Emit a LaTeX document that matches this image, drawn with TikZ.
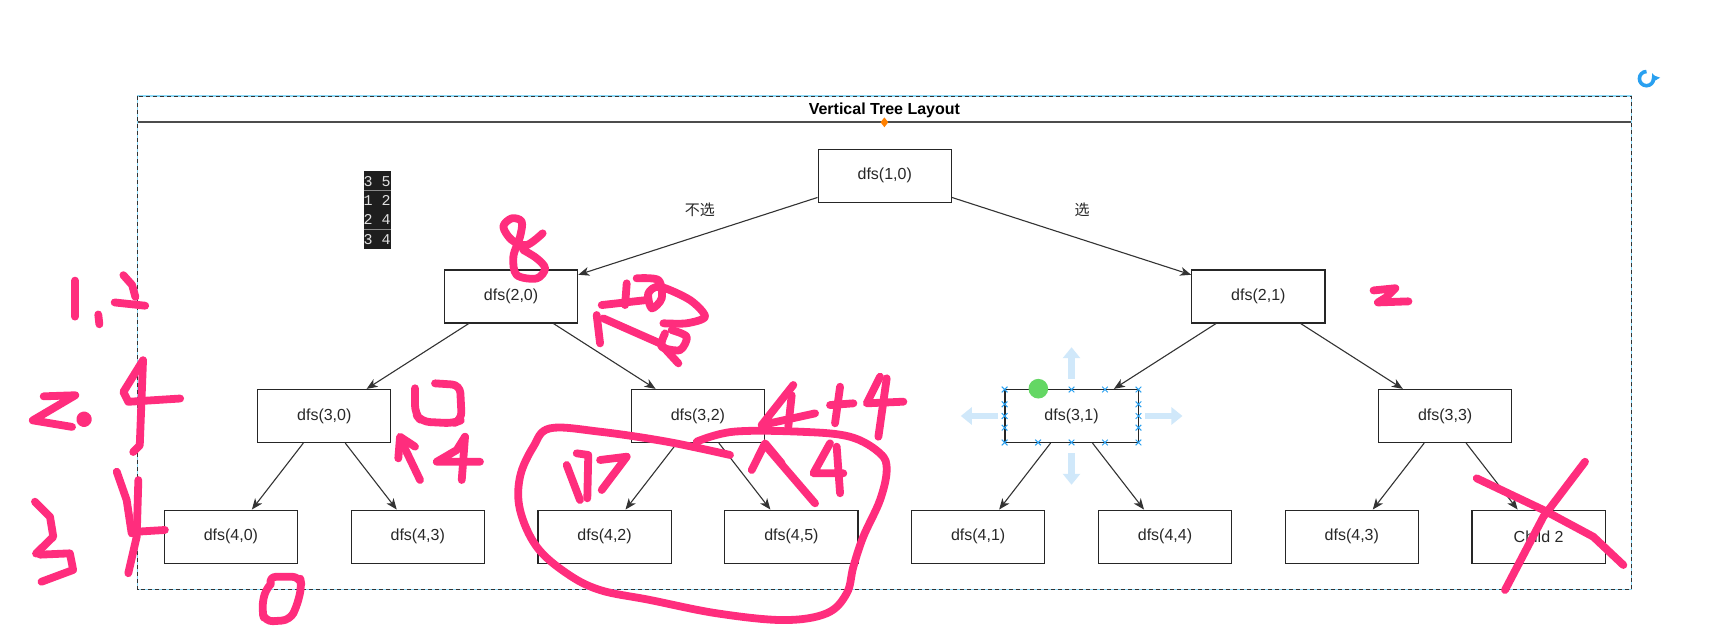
\documentclass[tikz,border=0pt]{standalone}
\usepackage{fontspec}
\setmainfont{Liberation Sans}
\newfontfamily\cjk{Noto Sans CJK SC}
\newfontfamily\monof{Liberation Mono}
\usetikzlibrary{arrows.meta}
\definecolor{ink}{RGB}{255,45,125}
\definecolor{selblue}{RGB}{41,160,240}
\definecolor{pale}{RGB}{208,232,250}
\definecolor{txt}{RGB}{40,40,40}
\definecolor{dotgreen}{RGB}{100,215,100}
\definecolor{consolebg}{RGB}{30,30,30}
\begin{document}
\begin{tikzpicture}[x=0.5459pt,y=-0.5459pt,
  box/.style={draw=black!85, line width=0.6pt, fill=white, minimum width=66.6pt,
    minimum height=26.5pt, inner sep=0pt, font=\fontsize{8}{9.6}\selectfont, text=txt},
  edge/.style={draw=black!80, line width=0.55pt,
    -{Stealth[length=5.5pt,width=4.4pt,inset=1.6pt]}},
  lbl/.style={font=\cjk\fontsize{7.5}{9}\selectfont, text=txt, inner sep=0pt},
  ink/.style={draw=ink, line width=3.9pt, line cap=round, line join=round},
  handle/.style={draw=selblue, line width=0.5pt},
  bigarrow/.style={draw=pale, line width=3.3pt, -{Triangle[length=5.5pt,width=8.5pt]}},
  contxt/.style={font=\monof\fontsize{7.5}{8}\selectfont, text=black!12, inner sep=0pt}
]
\useasboundingbox (0,0) rectangle (1568,583);
\fill[white] (0,0) rectangle (1568,583);

% container
\draw[cyan!45, line width=0.6pt] (126,88) rectangle (1494,540);
\draw[black!80, line width=0.4pt, dash pattern=on 2pt off 1.5pt] (126,88) rectangle (1494,540);
\draw[black!70, line width=1pt] (126,112) -- (1494,112);
\node[font=\bfseries\fontsize{8}{9.6}\selectfont, inner sep=0pt] (title) at (810,101) {Vertical Tree Layout};
\fill[orange] (810,107.5) -- (813.5,112) -- (810,116.5) -- (806.5,112) -- cycle;

% refresh icon
\draw[selblue, line width=1.8pt, -{Triangle[length=3pt,width=5pt]}]
  (1508,65.5) arc[start angle=270, end angle=-30, radius=6.5];

% console snippet
\node[fill=consolebg, minimum width=13.65pt, minimum height=38.8pt, inner sep=0pt] (con) at (345.5,192.5) {};
\draw[black!45, line width=0.5pt] (333,174.75) -- (358,174.75) (333,210.25) -- (358,210.25);
\node[contxt] (r1) at (345.5,165.9) {3 5};
\node[contxt] (r2) at (345.5,183.6) {1 2};
\node[contxt] (r3) at (345.5,201.4) {2 4};
\node[contxt] (r4) at (345.5,219.1) {3 4};

% tree nodes
\node[box] (n10) at (810.3,161) {dfs(1,0)};
\node[box] (n20) at (468.1,271.5) {dfs(2,0)};
\node[box] (n21) at (1152.5,271.5) {dfs(2,1)};
\node[box] (n30) at (297,381) {dfs(3,0)};
\node[box] (n32) at (639.2,381) {dfs(3,2)};
\node[box] (n31) at (981.4,381) {dfs(3,1)};
\node[box] (n33) at (1323.6,381) {dfs(3,3)};
\node[box] (n40) at (211.5,491.5) {dfs(4,0)};
\node[box] (n43a) at (382.6,491.5) {dfs(4,3)};
\node[box] (n42) at (553.7,491.5) {dfs(4,2)};
\node[box] (n45) at (724.8,491.5) {dfs(4,5)};
\node[box] (n41) at (895.9,491.5) {dfs(4,1)};
\node[box] (n44) at (1067,491.5) {dfs(4,4)};
\node[box] (n43b) at (1238.1,491.5) {dfs(4,3)};
\node[box] (c2) at (1409.2,491.5) {Child 2};

\draw[edge] (n10) -- (n20);
\draw[edge] (n10) -- (n21);
\draw[edge] (n20) -- (n30);
\draw[edge] (n20) -- (n32);
\draw[edge] (n21) -- (n31);
\draw[edge] (n21) -- (n33);
\draw[edge] (n30) -- (n40);
\draw[edge] (n30) -- (n43a);
\draw[edge] (n32) -- (n42);
\draw[edge] (n32) -- (n45);
\draw[edge] (n31) -- (n41);
\draw[edge] (n31) -- (n44);
\draw[edge] (n33) -- (n43b);
\draw[edge] (n33) -- (c2);

\node[lbl] (l0) at (641,192) {不选};
\node[lbl] (l1) at (991,192) {选};

% selection decorations on dfs(3,1)
\draw[bigarrow] (981.4,347) -- (981.4,318);
\draw[bigarrow] (981.4,415) -- (981.4,444);
\draw[bigarrow] (914,381) -- (880,381);
\draw[bigarrow] (1049,381) -- (1083,381);
\foreach \x in {920.1,950.75,981.4,1012.05,1042.7}
  \foreach \y in {356.75,405.25}
    \draw[handle] (\x-2.6,\y-2.6) -- (\x+2.6,\y+2.6) (\x-2.6,\y+2.6) -- (\x+2.6,\y-2.6);
\foreach \x in {920.1,1042.7}
  \foreach \y in {370.3,381,391.7}
    \draw[handle] (\x-2.6,\y-2.6) -- (\x+2.6,\y+2.6) (\x-2.6,\y+2.6) -- (\x+2.6,\y-2.6);
\fill[dotgreen] (951,356) circle (9);

% handwritten annotations
% "1,2"
\draw[ink] (68.7,257) -- (68.7,290);
\draw[ink] (90,288) -- (91,297);
\draw[ink] (113,252) -- (121,261) -- (124,272);
\draw[ink] (105,277) -- (133,280);
% "2."
\draw[ink] (40,363) -- (69,362) -- (30,385) -- (66,391);
\fill[ink] (77,384) circle (3.6);
% "4"
\draw[ink] (131,330) -- (113,359) -- (117.5,368) -- (165,365);
\draw[ink] (131,330) -- (128,408) -- (122,414);
% "3"
\draw[ink] (32,459.5) -- (45.8,473.3) -- (48.8,491.6) -- (33,507);
\draw[ink] (36.6,508) -- (64,506.8) -- (67,522) -- (38,532.8);
% "K"
\draw[ink] (106.9,432) -- (116,458) -- (120.6,488.5);
\draw[ink] (126.7,439.7) -- (125.2,491.6) -- (117.5,525);
\draw[ink] (125,487) -- (151,485.4);
% "0"
\draw[ink, rounded corners=4pt] (248,535) -- (245.7,528.2) -- (274.8,528.2) -- (276.3,537.3) -- (271.7,555.7)
  -- (265.6,567.9) -- (242.7,569.4) -- (239.7,558.7) -- (242.7,540.4) -- (248,535);
% "8"
\draw[ink] plot[smooth, tension=0.55] coordinates {(497,213.7) (482.4,224.4) (468.7,219.8) (461,207.6)
  (468.7,200) (477.8,203) (476.3,216.8) (470.2,235.1) (473.3,251.9) (491.6,255) (499.2,245.8)
  (491.6,236.6) (479.3,229)};
% "28"
\draw[ink] (551.1,279.4) -- (592.3,274.8);
\draw[ink] (574,259.5) -- (572.5,279.4);
\draw[ink] (546.5,288.5) -- (549.6,314.5);
\draw[ink] (552.6,291.6) -- (604.5,314.5) -- (621.3,332.8);
\draw[ink] plot[smooth, tension=0.5] coordinates {(583.1,254.9) (603,256.5) (606,273.3) (596.9,282.4)
  (593.8,268.7) (604.5,262.6) (632,274.8) (645.7,290) (628.9,296.1) (607.6,296.1)};
\draw[ink] plot[smooth, tension=0.5] coordinates {(609.1,305.3) (606,317.5) (622.8,320.6) (628.9,308.4) (615.2,302.3)};
% "0" and "14" near dfs(3,0)
\draw[ink, rounded corners=4pt] (398.4,351.1) -- (421.3,352.6) -- (422.9,384.7) -- (415.2,387.7)
  -- (386.2,386.2) -- (380.1,378.6) -- (380.1,355.6);
\draw[ink] (366.4,401.5) -- (384.7,439.6);
\draw[ink] (364.8,419.8) -- (366.4,400) -- (380.1,409.1);
\draw[ink] (425.9,400) -- (418.3,412.2) -- (400,422.9) -- (439.6,422.9);
\draw[ink] (425.9,400) -- (422.9,439.6);
% "2" near dfs(2,1)
\draw[ink] (1258,266) -- (1278,264) -- (1270,272) -- (1262,277) -- (1290,276);
% loop
\draw[ink] plot[smooth, tension=0.6] coordinates {(668.6,416.7) (610.6,404.5) (549.5,395.4) (503.8,392.3)
  (488.5,409.1) (476.3,436.6) (476.3,467.1) (491.5,500.7) (519,525.1) (549.5,540.4) (595.3,549.5)
  (656.4,561.7) (717.5,567.9) (757.2,561.7) (775.5,543.4) (781.6,519) (790.7,491.5) (806,458)
  (812.1,430.5) (806,415.2) (778.5,400) (732.7,395.4) (671.7,395.4) (638.1,404.5)};
% "17"
\draw[ink] (519,425.9) -- (531.2,458);
\draw[ink] (528.2,415.2) -- (538.8,416.7) -- (537.9,456.4);
\draw[ink] (549.6,421.3) -- (574,418.3) -- (551.1,448.8);
% "4+4"
\draw[ink] (726.6,352.6) -- (697.6,389.3) -- (746.5,378.6);
\draw[ink] (725.1,362) -- (722,390.8);
\draw[ink] (760.2,371) -- (781.6,369.4);
\draw[ink] (769.4,354.2) -- (764.8,387.7);
\draw[ink] (806,345) -- (793.8,369.4) -- (827.4,367.9);
\draw[ink] (812.1,346.5) -- (804.5,400);
% "14" below
\draw[ink] (688.5,430.5) -- (700.7,406) -- (716,424.4);
\draw[ink] (700.7,407.6) -- (746.5,461);
\draw[ink] (760.2,406) -- (745,433.5) -- (772.4,433.5);
\draw[ink] (766.3,409.1) -- (769.4,451.8);
% X over Child 2
\draw[ink] (1352.5,438.1) -- (1413.6,467.1) -- (1459.3,491.6) -- (1486.8,517.5);
\draw[ink] (1451.7,422.9) -- (1413.6,473.2) -- (1378.4,540.4);
\end{tikzpicture}
\end{document}
